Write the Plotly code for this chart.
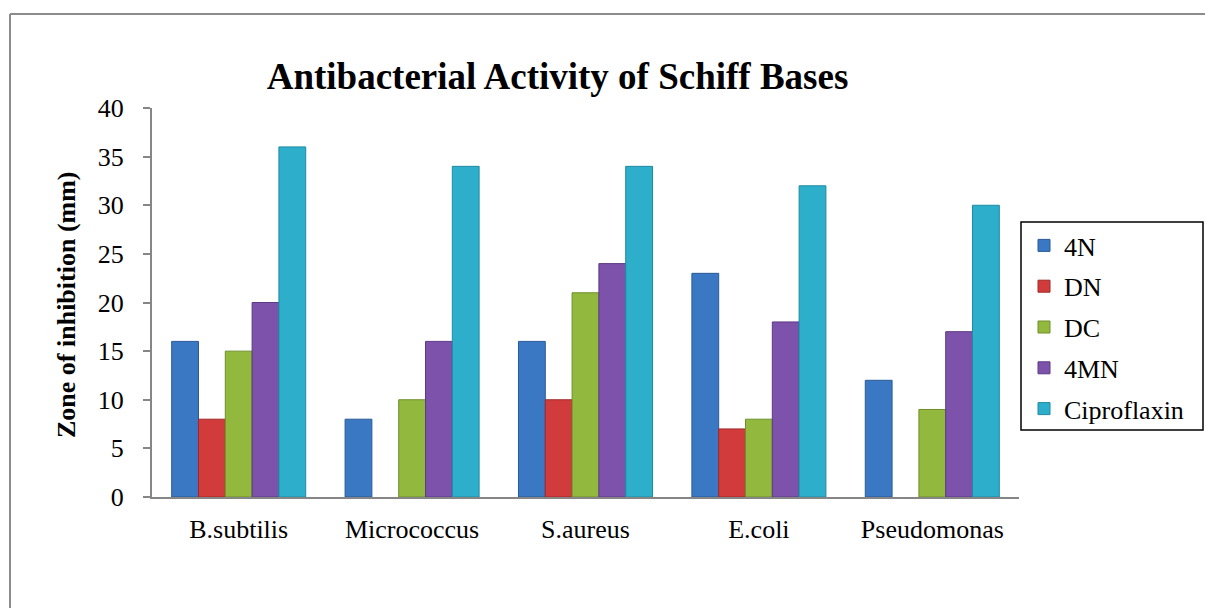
import plotly.graph_objects as go

categories = ["B.subtilis", "Micrococcus", "S.aureus", "E.coli", "Pseudomonas"]
series_names = ["4N", "DN", "DC", "4MN", "Ciproflaxin"]
val_4N = [16, 8, 16, 23, 12]
val_DN = [8, None, 10, 7, None]
val_DC = [15, 10, 21, 8, 9]
val_4MN = [20, 16, 24, 18, 17]
val_cipro = [36, 34, 34, 32, 30]
y_ticks = [0, 5, 10, 15, 20, 25, 30, 35, 40]

series_values = [val_4N, val_DN, val_DC, val_4MN, val_cipro]
colors = ["#3B78C4", "#D23B3B", "#92B83E", "#7D52AB", "#2DAFCB"]
edges = ["#2A5A96", "#A02828", "#6E8E2A", "#5C3A84", "#1F8AA3"]

OFF = 8  # page body margin
W, H = 1213 - OFF, 608 - OFF
L, R, T, B = 152 - OFF, 1019 - OFF, 108 - OFF, 497 - OFF
pw, ph = R - L, B - T

def px(x):
    return (x - OFF - L) / pw

def py(y):
    return (B - (y - OFF)) / ph

FONT = "Liberation Serif, Times New Roman, serif"
FS = 26

fig = go.Figure()
for i, (name, vals) in enumerate(zip(series_names, series_values)):
    fig.add_trace(go.Bar(
        x=categories, y=vals, name=name,
        marker=dict(color=colors[i], line=dict(color=edges[i], width=1)),
        legendgroup=name,
    ))

fig.update_layout(
    width=W, height=H,
    margin=dict(l=L, r=W - R, t=T, b=H - B, pad=0),
    paper_bgcolor="white", plot_bgcolor="white",
    barmode="group", bargap=0.227, bargroupgap=0,
    font=dict(family=FONT, color="black", size=FS),
    title=dict(text="<b>Antibacterial Activity of Schiff Bases</b>",
               font=dict(family=FONT, size=37, color="black"),
               x=(557.5 - OFF) / W, xanchor="center", xref="container",
               y=1 - (76 - OFF) / H, yanchor="middle", yref="container"),
    xaxis=dict(showline=True, linecolor="#868686", linewidth=2,
               ticks="", showgrid=False, tickfont=dict(size=FS),
               ticklabelstandoff=8),
    yaxis=dict(range=[0, 40], tickvals=y_ticks, showline=True,
               linecolor="#868686", linewidth=2, ticks="outside",
               ticklen=7, tickcolor="#868686", tickwidth=2,
               showgrid=False, zeroline=False, tickfont=dict(size=FS),
               ticklabelstandoff=14),
    legend=dict(x=px(1024), y=py(222), xanchor="left", yanchor="top",
                borderwidth=0, bgcolor="rgba(0,0,0,0)",
                font=dict(size=FS), tracegroupgap=4, itemwidth=30),
    annotations=[dict(text="<b>Zone of inhibition (mm)</b>", textangle=-90,
                      x=px(66), y=py(305), xref="paper", yref="paper",
                      xanchor="center", yanchor="middle", showarrow=False,
                      font=dict(family=FONT, size=FS, color="black"))],
    shapes=[
        dict(type="line", xref="paper", yref="paper",
             x0=px(10), x1=px(1220), y0=py(14), y1=py(14),
             line=dict(color="#8C8C8C", width=2)),
        dict(type="line", xref="paper", yref="paper",
             x0=px(10), x1=px(10), y0=py(14), y1=py(620),
             line=dict(color="#8C8C8C", width=2)),
        dict(type="rect", xref="paper", yref="paper",
             x0=px(1021), x1=px(1203), y0=py(222), y1=py(430),
             line=dict(color="black", width=1.5), fillcolor="rgba(0,0,0,0)"),
    ],
)

fig.write_html("out.html")
